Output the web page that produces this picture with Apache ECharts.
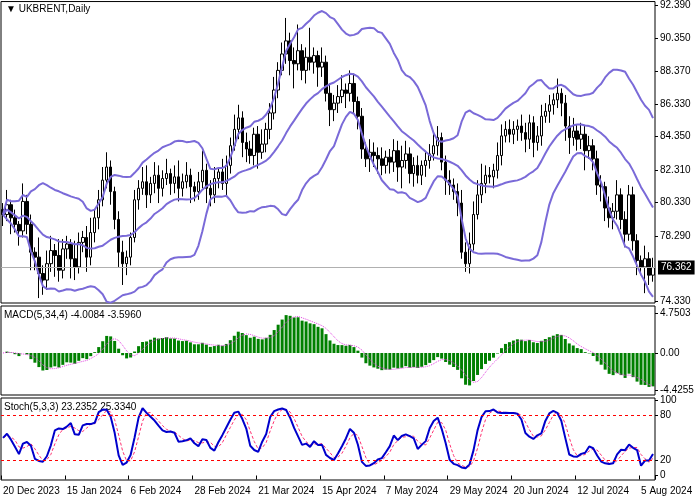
<!DOCTYPE html>
<html><head><meta charset="utf-8">
<script src="https://cdn.jsdelivr.net/npm/echarts@6/dist/echarts.min.js"></script>
<style>html,body{margin:0;padding:0;background:#fff}#c{width:698px;height:500px}</style>
</head><body><div id="c"></div>
<script>
const closes = [
79.6,80.2,79.4,79.0,78.6,80.4,79.0,77.3,77.0,76.0,75.6,76.6,77.4,77.1,76.2,77.5,
77.8,76.9,76.4,77.9,78.2,77.0,78.5,79.4,80.5,81.7,82.5,81.0,79.3,77.3,76.6,77.0,
78.2,80.5,81.2,81.6,80.8,81.5,82.0,81.2,81.8,82.1,81.5,81.9,81.2,81.6,82.0,81.3,
81.0,81.6,82.3,81.2,80.8,81.8,82.2,81.5,82.6,83.8,84.8,85.5,84.0,83.6,83.2,84.5,
83.4,83.9,84.8,85.8,87.2,88.4,89.4,90.2,89.0,88.8,89.6,88.4,89.2,88.9,89.3,88.6,
88.9,87.0,86.0,86.4,86.8,87.2,87.0,87.6,86.5,85.6,83.6,83.0,83.4,83.2,83.0,82.6,
83.1,82.8,83.5,82.5,82.9,83.3,82.1,82.6,82.0,82.6,82.9,83.3,83.8,84.3,82.8,81.7,
81.4,81.0,80.3,77.3,76.6,77.8,79.6,80.8,81.5,82.0,81.9,82.3,83.2,84.4,84.8,84.5,
84.8,85.0,84.6,84.2,85.2,84.0,84.4,85.6,85.9,86.3,86.6,87.0,86.4,85.0,84.3,84.7,
84.2,84.5,83.5,83.8,83.0,81.4,81.3,80.0,79.4,79.8,80.8,79.3,78.4,80.8,78.0,76.8,
76.4,76.9,75.9,76.362];
const opens = [
79.9,79.6,80.2,79.4,79.0,78.6,80.4,79.0,77.3,77.0,76.0,75.6,76.6,77.4,77.1,76.2,
77.5,77.8,76.9,76.4,77.9,78.2,77.0,78.5,79.4,80.5,81.7,82.5,81.0,79.3,77.3,76.6,
77.0,78.2,80.5,81.2,81.6,80.8,81.5,82.0,81.2,81.8,82.1,81.5,81.9,81.2,81.6,82.0,
81.3,81.0,81.6,82.3,81.2,80.8,81.8,82.2,81.5,82.6,83.8,84.8,85.5,84.0,83.6,83.2,
84.5,83.4,83.9,84.8,85.8,87.2,88.4,89.4,90.2,89.0,88.8,89.6,88.4,89.2,88.9,89.3,
88.6,88.9,87.0,86.0,86.4,86.8,87.2,87.0,87.6,86.5,85.6,83.6,83.0,83.4,83.2,83.0,
82.6,83.1,82.8,83.5,82.5,82.9,83.3,82.1,82.6,82.0,82.6,82.9,83.3,83.8,84.3,82.8,
81.7,81.4,81.0,80.3,77.3,76.6,77.8,79.6,80.8,81.5,82.0,81.9,82.3,83.2,84.4,84.8,
84.5,84.8,85.0,84.6,84.2,85.2,84.0,84.4,85.6,85.9,86.3,86.6,87.0,86.4,85.0,84.3,
84.7,84.2,84.5,83.5,83.8,83.0,81.4,81.3,80.0,79.4,79.8,80.8,79.3,78.4,80.8,78.0,
76.8,76.4,76.9,75.9];
const upWick = [
0.4,0.9,0.3,0.5,0.2,1.1,0.4,0.6,0.3,1.2,0.5,0.8,0.9,0.4,1.0,0.6,
0.5,0.3,1.1,0.6,0.4,0.7,0.9,0.5,0.6,0.8,0.9,0.4,0.3,0.5,0.7,0.4,
0.3,0.6,0.5,0.9,1.0,0.4,0.8,0.6,0.5,0.9,0.3,0.7,1.0,0.5,0.8,0.4,
0.3,0.6,1.2,0.4,0.5,0.7,0.3,0.8,0.6,0.5,0.9,0.8,0.4,0.6,0.5,0.4,
0.5,0.9,0.4,0.6,0.8,0.5,0.7,1.4,0.5,0.8,1.6,0.4,0.6,1.8,0.5,0.3,
0.9,0.4,0.6,0.5,0.7,0.9,0.4,0.8,0.6,0.3,0.5,0.4,0.8,0.6,0.5,0.7,
0.4,0.5,0.7,0.6,0.9,0.8,0.4,0.5,0.6,0.3,0.5,0.6,0.9,0.7,0.3,0.4,
0.6,0.4,0.5,0.8,0.6,0.7,0.8,0.9,1.2,0.6,0.5,0.4,0.8,0.7,0.5,0.6,
0.5,0.4,0.7,0.6,0.5,0.4,0.6,0.7,0.5,0.6,0.4,0.9,0.3,0.5,0.6,0.8,
0.4,0.7,0.5,0.6,0.4,0.5,0.6,0.3,0.7,0.5,0.9,0.4,0.5,0.6,0.5,0.4,
0.3,0.8,0.4,0.6];
const dnWick = [
0.7,0.4,1.0,0.5,0.9,0.4,0.6,1.1,0.8,1.5,0.9,0.6,0.5,1.3,0.7,0.5,
0.6,1.2,0.8,0.4,0.6,0.9,0.5,0.6,0.7,0.4,0.5,0.8,0.6,0.9,1.3,0.7,
0.5,0.3,0.6,0.4,0.8,0.5,0.6,0.9,0.5,0.4,0.7,0.6,0.8,0.5,0.4,1.0,
0.6,0.5,0.4,0.9,0.7,0.5,0.6,0.4,0.8,0.5,0.3,0.6,0.9,0.8,0.5,0.6,
1.0,0.4,0.5,0.6,0.4,0.5,0.3,0.6,0.9,1.5,0.4,0.6,0.8,0.5,0.7,1.2,
0.6,0.5,1.0,0.7,0.6,0.4,0.9,0.5,0.7,0.8,0.6,0.5,0.8,0.7,0.9,0.6,
0.5,0.7,0.6,0.9,1.3,0.5,0.6,0.8,0.5,0.6,0.7,0.5,0.4,0.6,0.5,0.9,
0.6,0.5,0.8,0.4,0.5,0.6,0.4,0.3,0.5,0.6,0.4,0.7,0.5,0.6,0.4,0.5,
0.6,0.7,0.5,0.8,0.6,0.9,0.5,0.6,0.4,0.7,0.6,0.5,0.8,0.9,1.0,0.5,
0.7,0.6,1.2,0.5,0.7,0.6,0.9,0.8,0.6,0.7,0.5,0.6,0.8,0.4,0.6,0.9,
0.5,1.6,0.6,0.4];
const dateLabels = ['20 Dec 2023','15 Jan 2024','6 Feb 2024','28 Feb 2024','21 Mar 2024','15 Apr 2024','7 May 2024','29 May 2024','20 Jun 2024','12 Jul 2024','5 Aug 2024'];
const priceTicks = [74.33,78.29,80.33,82.31,84.35,86.33,88.37,90.35,92.39];
const macdTicks = [-4.4255,0,4.7503];
const stochTicks = [0,20,80,100];
const lastPrice = 76.362;

const N = closes.length;
const cats = closes.map((_, i) => i);
const candles = closes.map((c, i) => [opens[i], c, Math.min(opens[i], c) - dnWick[i], Math.max(opens[i], c) + upWick[i]]);
const highs = candles.map(d => d[3]), lows = candles.map(d => d[2]);
const mid = [], up = [], dn = [];
for (let i = 0; i < N; i++) {
  const s = Math.max(0, i - 19), w = closes.slice(s, i + 1);
  const m = w.reduce((a, b) => a + b, 0) / w.length;
  const sd = Math.sqrt(w.reduce((a, b) => a + (b - m) * (b - m), 0) / w.length);
  mid.push(+m.toFixed(3)); up.push(+(m + 2 * sd).toFixed(3)); dn.push(+(m - 2 * sd).toFixed(3));
}
function ema(a, p) { const k = 2 / (p + 1); const r = [a[0]]; for (let i = 1; i < a.length; i++) r.push(a[i] * k + r[i - 1] * (1 - k)); return r; }
const e5 = ema(closes, 5), e34 = ema(closes, 34);
const macd = e5.map((v, i) => +(v - e34[i]).toFixed(4));
const sig = macd.map((_, i) => { const w = macd.slice(Math.max(0, i - 3), i + 1); return +(w.reduce((a, b) => a + b, 0) / w.length).toFixed(4); });
const K = [], D = [];
for (let i = 0; i < N; i++) {
  let num = 0, den = 0;
  for (let j = Math.max(0, i - 2); j <= i; j++) {
    const s = Math.max(0, j - 4);
    const hh = Math.max(...highs.slice(s, j + 1)), ll = Math.min(...lows.slice(s, j + 1));
    num += closes[j] - ll; den += hh - ll;
  }
  K.push(+(den ? 100 * num / den : 50).toFixed(2));
}
for (let i = 0; i < N; i++) { const w = K.slice(Math.max(0, i - 2), i + 1); D.push(+(w.reduce((a, b) => a + b, 0) / w.length).toFixed(2)); }

const F = 'Liberation Sans';
const lab = { fontFamily: F, fontSize: 10, color: '#000' };
const chart = echarts.init(document.getElementById('c'));
const bandColor = '#7a6ad8';
const xBase = (gi, show) => ({
  type: 'category', data: cats, gridIndex: gi, boundaryGap: true,
  axisLine: { show: false }, axisTick: { show: show, interval: 15, length: 4, lineStyle: { color: '#000' } },
  axisLabel: { show: show, interval: 15, align: 'left', alignMinLabel: 'left', margin: 6, ...lab, formatter: (v, i) => dateLabels[Math.round(i / 16)] || '' },
  splitLine: { show: false }
});
const yBase = (gi, min, max, ticks, fmt) => ({
  type: 'value', gridIndex: gi, position: 'right', min: min, max: max, scale: true,
  axisLine: { show: false }, splitLine: { show: false },
  axisTick: { show: true, customValues: ticks, length: 3, lineStyle: { color: '#000' } },
  axisLabel: { customValues: ticks, ...lab, margin: 5, formatter: fmt }
});
chart.setOption({
  animation: false,
  textStyle: { fontFamily: F },
  grid: [
    { left: 1, right: 43, top: 1, height: 302, show: true, borderColor: '#000', borderWidth: 1, backgroundColor: '#fff' },
    { left: 1, right: 43, top: 306, height: 89, show: true, borderColor: '#000', borderWidth: 1 },
    { left: 1, right: 43, top: 398, height: 82, show: true, borderColor: '#000', borderWidth: 1 }
  ],
  xAxis: [xBase(0, false), xBase(1, false), xBase(2, true)],
  yAxis: [
    yBase(0, 74.2, 92.6, priceTicks, v => v.toFixed(3)),
    yBase(1, -5.0, 5.6, macdTicks, v => v === 0 ? '0.00' : v.toFixed(4)),
    yBase(2, -6, 103, stochTicks, v => String(v))
  ],
  graphic: [
    { type: 'text', left: 6, top: 4, style: { text: '▼ UKBRENT,Daily', font: '10px "Liberation Sans"', fill: '#000' } },
    { type: 'text', left: 4, top: 310, style: { text: 'MACD(5,34,4) -4.0084 -3.5960', font: '10px "Liberation Sans"', fill: '#000' } },
    { type: 'text', left: 4, top: 402, style: { text: 'Stoch(5,3,3) 23.2352 25.3340', font: '10px "Liberation Sans"', fill: '#000' } }
  ],
  series: [
    { type: 'candlestick', xAxisIndex: 0, yAxisIndex: 0, data: candles, barWidth: 3,
      itemStyle: { color: '#fff', color0: '#000', borderColor: '#000', borderColor0: '#000', borderWidth: 1 },
      markLine: { symbol: 'none', silent: true, data: [{ yAxis: lastPrice }],
        lineStyle: { color: '#b0b0b0', type: 'solid', width: 1 },
        label: { position: 'end', formatter: lastPrice.toFixed(3), backgroundColor: '#000', color: '#fff', fontFamily: F, fontSize: 10, padding: [2, 3], distance: 3 } } },
    { type: 'line', xAxisIndex: 0, yAxisIndex: 0, data: up, showSymbol: false, lineStyle: { color: bandColor, width: 2 } },
    { type: 'line', xAxisIndex: 0, yAxisIndex: 0, data: mid, showSymbol: false, lineStyle: { color: bandColor, width: 2 } },
    { type: 'line', xAxisIndex: 0, yAxisIndex: 0, data: dn, showSymbol: false, lineStyle: { color: bandColor, width: 2 } },
    { type: 'bar', xAxisIndex: 1, yAxisIndex: 1, data: macd, barWidth: 3, itemStyle: { color: '#008000' } },
    { type: 'line', xAxisIndex: 1, yAxisIndex: 1, data: sig, showSymbol: false, lineStyle: { color: '#e040e0', width: 1, type: 'dotted' } },
    { type: 'line', xAxisIndex: 2, yAxisIndex: 2, data: K, showSymbol: false, z: 3, lineStyle: { color: '#0000cc', width: 2 },
      markLine: { symbol: 'none', silent: true, label: { show: false }, data: [{ yAxis: 80, lineStyle: { color: '#ff0000', type: [3, 3], width: 1 } }, { yAxis: 20, lineStyle: { color: '#ff0000', type: [3, 3], width: 1 } }] } },
    { type: 'line', xAxisIndex: 2, yAxisIndex: 2, data: D, showSymbol: false, z: 2, lineStyle: { color: '#ff3070', width: 1, type: [3, 2] } }
  ]
});
</script></body></html>
